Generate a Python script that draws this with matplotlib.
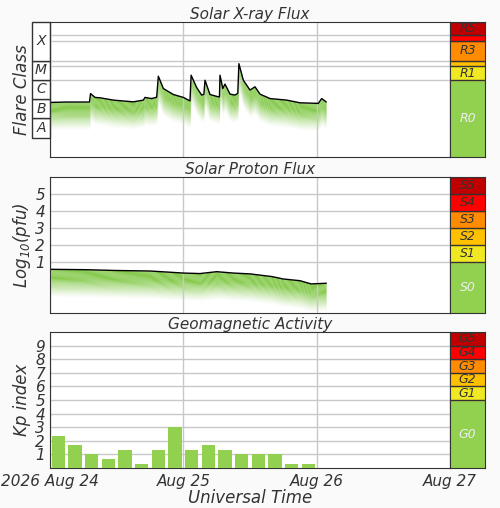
import matplotlib.pyplot as plt
import matplotlib.transforms as mtransforms
from matplotlib.patches import Rectangle
import numpy as np

# X-ray flux: hours since 2026-08-24 00:00 UT, log10(W/m2)
xray_h = [0, 3, 7.1, 7.3, 8.1, 9, 11.4, 15, 16.8, 17.1, 18.3, 19.2, 19.5, 20.4, 22.2, 24, 25.2,
          25.4, 26.4, 27.3, 27.7, 27.9, 28.8, 30.3, 30.5, 30.6, 31.1, 31.5, 32.4, 33.3, 33.8,
          34.0, 34.8, 36, 36.9, 37.8, 39.6, 42.6, 45, 48.3, 48.9, 49.7]
xray_log = [-6.17, -6.15, -6.15, -5.71, -5.91, -5.93, -6.05, -6.14, -6.05, -5.91, -5.97, -5.9, -4.81,
            -5.45, -5.76, -5.91, -6.09, -4.76, -5.40, -5.79, -5.75, -5.02, -5.76, -5.88, -5.88,
            -4.76, -5.45, -5.22, -5.74, -5.79, -5.7, -4.16, -5.02, -5.53, -5.36, -5.74, -5.97,
            -6.05, -6.19, -6.22, -5.97, -6.14]

# Proton flux log10(pfu)
prot_h = [0, 6, 12, 18, 24, 27, 30, 33, 36, 40, 42, 45, 47, 49.7]
prot_log = [0.57, 0.55, 0.5, 0.47, 0.35, 0.32, 0.43, 0.35, 0.3, 0.14, 0.0, -0.1, -0.29, -0.25]

# Kp index, 3-hour bins
kp = [2.33, 1.67, 1, 0.67, 1.33, 0.33, 1.33, 3, 1.33, 1.67, 1.33, 1, 1, 1, 0.33, 0.33]

day_ticks = [0, 24, 48, 72]
day_labels = ["2026 Aug 24", "Aug 25", "Aug 26", "Aug 27"]

r_scale = [(-9, -5, "#92d050", "R0"), (-5, -4.3, "#f0e823", "R1"), (-4.3, -4, "#ffc000", ""),
           (-4, -3, "#ff8c00", "R3"), (-3, -2.7, "#ff0000", ""), (-2.7, -2, "#c00000", "R5")]
s_scale = [(-2, 1, "#92d050", "S0"), (1, 2, "#f0e823", "S1"), (2, 3, "#ffc000", "S2"),
           (3, 4, "#ff8c00", "S3"), (4, 5, "#ff0000", "S4"), (5, 6, "#c00000", "S5")]
g_scale = [(0, 5, "#92d050", "G0"), (5, 6, "#f0e823", "G1"), (6, 7, "#ffc000", "G2"),
           (7, 8, "#ff8c00", "G3"), (8, 9, "#ff0000", "G4"), (9, 10, "#c00000", "G5")]

txt = "#333333"
green = "#7cc63f"
plt.rcParams['font.style'] = 'italic'
plt.rcParams['font.size'] = 11

fig = plt.figure(figsize=(5, 5.08), dpi=100)
fig.patch.set_facecolor("#fafafa")
H = 508.0

def pan(top, bot):
    ax = fig.add_axes([0.1, 1 - bot / H, 0.8, (bot - top) / H])
    sx = fig.add_axes([0.9, 1 - bot / H, 0.07, (bot - top) / H])
    for a in (ax, sx):
        for s in a.spines.values():
            s.set_color("#333333")
    ax.set_facecolor("white")
    ax.set_xlim(0, 72)
    ax.set_xticks(day_ticks)
    ax.grid(True, color="#c8c8c8", lw=1)
    ax.tick_params(length=0, colors=txt, labelsize=11)
    ax.set_xticklabels([])
    sx.set_xticks([]); sx.set_yticks([])
    return ax, sx

def side(sx, scale, lo, hi):
    sx.set_ylim(lo, hi)
    sx.set_xlim(0, 1)
    for a, b, c, lab in scale:
        sx.axhspan(a, b, color=c)
        sx.axhline(b, color="#333333", lw=1)
        if lab:
            sx.text(0.5, (a + b) / 2, lab, ha="center", va="center", fontsize=9,
                    color="#eeeeee" if lab.endswith("0") else txt)

def fade(ax, t, y, depth, n=30):
    t = np.asarray(t); y = np.asarray(y)
    for k in range(n):
        ax.fill_between(t, y - depth * k / n, y - depth * (k + 1) / n, color=green,
                        alpha=min(1.0, 1.4 * (1 - k / n)) ** 1.3, lw=0)

def ylab(ax, s):
    ax.set_ylabel(s, color=txt, fontsize=12, va="center")
    ax.yaxis.set_label_coords(-0.07, 0.5)

# X-ray
ax1, sx1 = pan(22, 157)
ax1.set_ylim(-9, -2)
ax1.set_yticks([-5, -4.3, -4, -3, -2.7])
ax1.set_yticklabels([])
fade(ax1, xray_h, xray_log, 1.4)
ax1.plot(xray_h, xray_log, color="black", lw=1)
ax1.set_title("Solar X-ray Flux", color=txt, fontsize=11, pad=2)
ylab(ax1, "Flare Class")
side(sx1, r_scale, -9, -2)
tr = mtransforms.blended_transform_factory(ax1.transAxes, ax1.transData)
for lo, hi_, lab in [(-8, -7, "A"), (-7, -6, "B"), (-6, -5, "C"), (-5, -4, "M"), (-4, -2, "X")]:
    ax1.add_patch(Rectangle((-0.045, lo), 0.045, hi_ - lo, transform=tr, clip_on=False,
                            fc="white", ec="#333333", lw=1))
    ax1.text(-0.0225, lo + 0.5 if lab != "X" else -3, lab, transform=tr, ha="center",
             va="center", color=txt, fontsize=10)

# Protons
ax2, sx2 = pan(177, 313)
ax2.set_ylim(-2, 6)
ax2.set_yticks([1, 2, 3, 4, 5])
ax2.set_yticklabels(["1", "2", "3", "4", "5"])
fade(ax2, prot_h, prot_log, 1.6)
ax2.plot(prot_h, prot_log, color="black", lw=1)
ax2.set_title("Solar Proton Flux", color=txt, fontsize=11, pad=2)
ylab(ax2, "Log$_{10}$(pfu)")
side(sx2, s_scale, -2, 6)

# Kp
ax3, sx3 = pan(332, 468)
ax3.set_ylim(0, 10)
ax3.set_yticks(range(1, 10))
ax3.bar(np.arange(len(kp)) * 3 + 1.5, kp, width=2.4, color="#92d050", zorder=3)
ax3.set_title("Geomagnetic Activity", color=txt, fontsize=11, pad=2)
ylab(ax3, "Kp index")
ax3.set_xticklabels(day_labels)
ax3.tick_params(axis="x", pad=4)
ax3.set_xlabel("Universal Time", color=txt, fontsize=12, labelpad=0)
side(sx3, g_scale, 0, 10)

fig.savefig("out.png", dpi=100, facecolor=fig.get_facecolor())
